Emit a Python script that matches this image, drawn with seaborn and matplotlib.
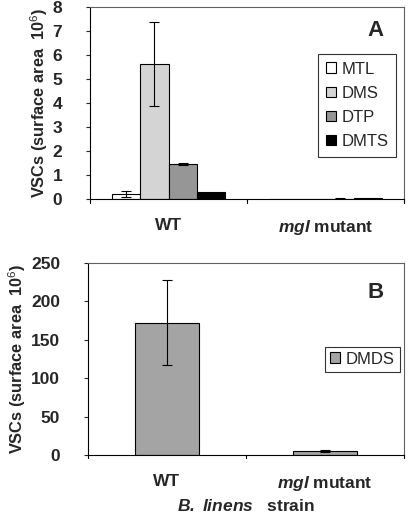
import numpy as np
import pandas as pd
import matplotlib
matplotlib.use("Agg")
import matplotlib.pyplot as plt
import seaborn as sns

# ---- data ----
strains = ["WT", "mgl mutant"]
compounds_a = ["MTL", "DMS", "DTP", "DMTS"]
values_a = {
    "MTL":  [0.22, 0.0],
    "DMS":  [5.62, 0.0],
    "DTP":  [1.47, 0.02],
    "DMTS": [0.30, 0.05],
}
errors_a = {
    "MTL":  [0.12, 0.0],
    "DMS":  [1.75, 0.0],
    "DTP":  [0.05, 0.02],
    "DMTS": [0.0, 0.0],
}
values_b = [172.5, 5.2]
errors_b = [55.0, 1.0]
tick_labels = ["WT", r"$\mathbfit{mgl}$ mutant"]

sns.set_style("white")
plt.rcParams["font.family"] = ["Liberation Sans", "DejaVu Sans"]
plt.rcParams["mathtext.fontset"] = "custom"
plt.rcParams["mathtext.rm"] = "Liberation Sans"
plt.rcParams["mathtext.it"] = "Liberation Sans:italic"
plt.rcParams["mathtext.bf"] = "Liberation Sans:bold"
plt.rcParams["mathtext.bfit"] = "Liberation Sans:bold:italic"

colors_a = {"MTL": "#ffffff", "DMS": "#d4d4d4", "DTP": "#969696", "DMTS": "#000000"}

df_a = pd.DataFrame(
    [(s, c, values_a[c][i], errors_a[c][i]) for c in compounds_a for i, s in enumerate(strains)],
    columns=["strain", "compound", "value", "err"],
)
df_b = pd.DataFrame({"strain": strains, "value": values_b, "err": errors_b})

fig = plt.figure(figsize=(4.08, 5.17), dpi=100)
axA = fig.add_axes([0.2206, 0.615, 0.7696, 0.3715])
axB = fig.add_axes([0.2157, 0.1199, 0.7745, 0.3714])

# Panel A
sns.barplot(data=df_a, x="strain", y="value", hue="compound", hue_order=compounds_a,
            order=strains, palette=colors_a, width=0.72, errorbar=None,
            edgecolor="black", linewidth=0.8, ax=axA)
for cont, c in zip(axA.containers, compounds_a):
    for patch, i in zip(cont.patches, range(len(strains))):
        e = errors_a[c][i]
        if e > 0:
            xc = patch.get_x() + patch.get_width() / 2
            axA.errorbar(xc, patch.get_height(), yerr=e, color="black",
                         capsize=3.5, elinewidth=0.8, capthick=0.8)
axA.set_ylim(0, 8)
axA.set_yticks(range(0, 9))
leg = axA.legend(loc="upper left", bbox_to_anchor=(0.727, 0.755), frameon=True,
                 fancybox=False, edgecolor="black", fontsize=12,
                 handlelength=0.6, handleheight=0.6, handletextpad=0.35,
                 labelspacing=0.55, borderpad=0.45, borderaxespad=0)
leg.get_frame().set_linewidth(0.8)
axA.text(0.935, 0.875, "A", transform=axA.transAxes, fontsize=16, fontweight="bold",
         ha="right", va="center")

# Panel B
sns.barplot(data=df_b, x="strain", y="value", order=strains, color="#a4a4a4",
            width=0.4, errorbar=None, edgecolor="black", linewidth=0.8,
            label="DMDS", ax=axB)
for patch, e in zip(axB.containers[0].patches, errors_b):
    xc = patch.get_x() + patch.get_width() / 2
    axB.errorbar(xc, patch.get_height(), yerr=e, color="black",
                 capsize=3.5, elinewidth=0.8, capthick=0.8)
axB.set_ylim(0, 250)
axB.set_yticks(range(0, 251, 50))
legB = axB.legend(loc="upper left", bbox_to_anchor=(0.75, 0.565), frameon=True,
                  fancybox=False, edgecolor="black", fontsize=12,
                  handlelength=0.6, handleheight=0.6, handletextpad=0.35,
                  borderpad=0.3, borderaxespad=0)
legB.get_frame().set_linewidth(0.8)
axB.text(0.935, 0.845, "B", transform=axB.transAxes, fontsize=16, fontweight="bold",
         ha="right", va="center")

for ax in (axA, axB):
    ax.set_xlim(-0.5, 1.5)
    ax.set_xticks([0, 1])
    ax.set_xticklabels(tick_labels, fontsize=12.5, fontweight="bold")
    ax.tick_params(axis="x", length=0, pad=14)
    ax.tick_params(axis="y", length=3, width=0.8, direction="out", left=True,
                   labelsize=12.5, pad=17)
    for lbl in ax.get_yticklabels():
        lbl.set_fontweight("bold")
    for sp in ax.spines.values():
        sp.set_color("#606060")
        sp.set_linewidth(0.8)
    ax.spines["bottom"].set_color("black")
    ax.spines["left"].set_color("black")
    # category boundary ticks
    for xb in (-0.5, 0.5, 1.5):
        ax.plot([xb, xb], [0, -0.018], transform=ax.get_xaxis_transform(),
                color="black", lw=0.8, clip_on=False)
    ax.set_ylabel(r"VSCs (surface area  10$^{6}$)", fontsize=11.8, fontweight="bold",
                  labelpad=2)

axA.set_xlabel("")
axB.set_xlabel(r"$\mathbfit{B.\ linens}$   strain", fontsize=12.5, fontweight="bold",
               labelpad=3)

fig.savefig("out.png", dpi=100)
